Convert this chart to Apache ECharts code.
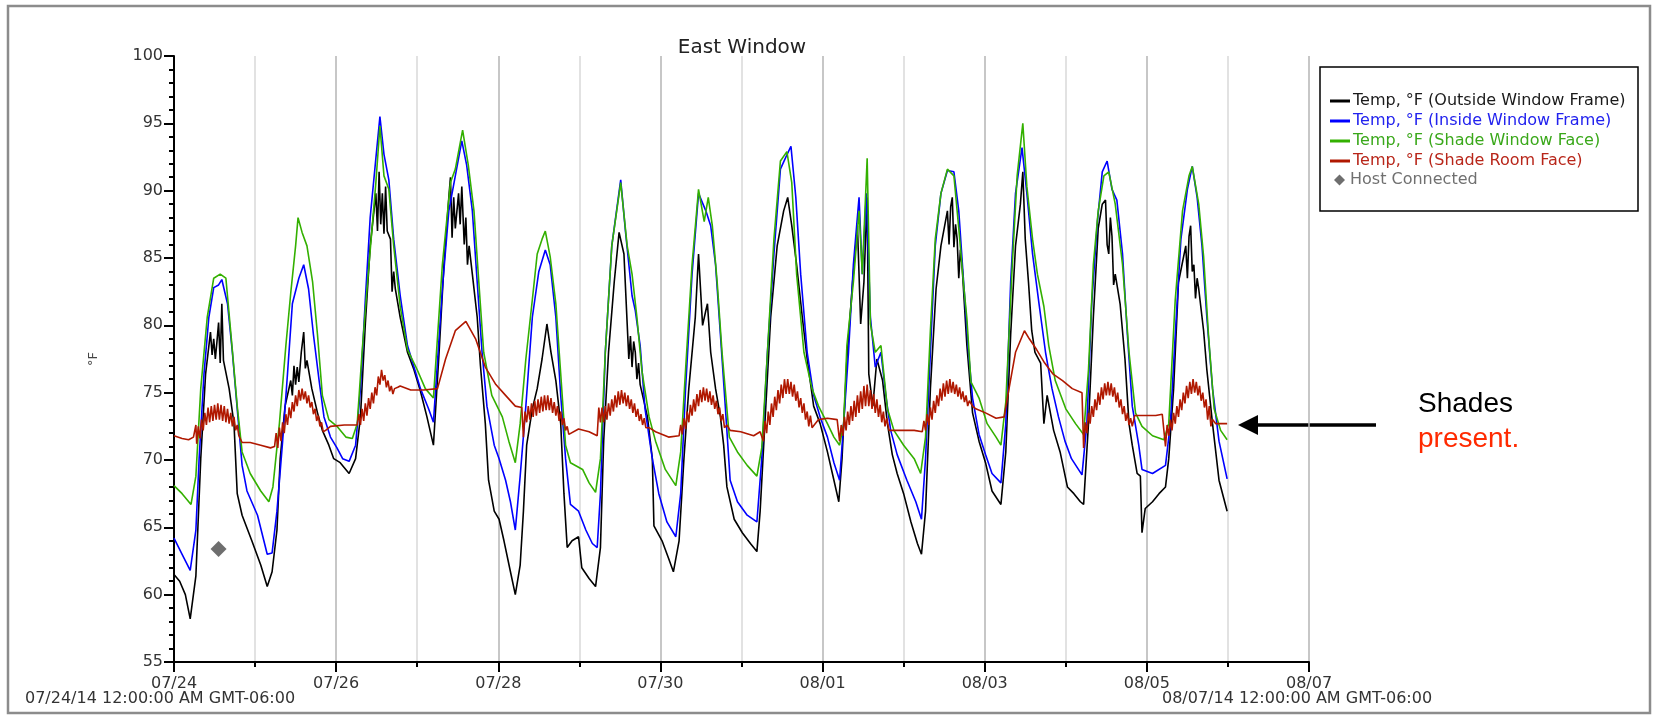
<!DOCTYPE html>
<html>
<head>
<meta charset="utf-8">
<title>East Window</title>
<script src="https://cdn.jsdelivr.net/npm/echarts@6/dist/echarts.min.js"></script>
<style>
  html, body { margin: 0; padding: 0; background: #fff; }
  #chart { width: 1656px; height: 717px; }
</style>
</head>
<body>
<div id="chart"></div>
<script>
// days since 07/24/14 00:00, temperature in °F
const outsideFrame = [
  [0.0, 61.5], [0.07, 61.0], [0.14, 60.0], [0.2, 58.2], [0.27, 61.4], [0.33, 70.1], [0.39, 76.4], [0.45, 79.5],
  [0.47, 77.8], [0.49, 79.0], [0.51, 77.5], [0.53, 78.8], [0.55, 80.2], [0.57, 77.2], [0.59, 81.6], [0.61, 77.4],
  [0.68, 75.3], [0.74, 72.7], [0.78, 67.5], [0.84, 65.9], [0.96, 64.0], [1.07, 62.2], [1.15, 60.6], [1.21, 61.7],
  [1.27, 64.8], [1.31, 70.1], [1.37, 74.0], [1.44, 75.9], [1.46, 74.8], [1.48, 77.0], [1.50, 75.6], [1.52, 76.9],
  [1.54, 75.8], [1.57, 78.0], [1.60, 79.5], [1.62, 76.8], [1.64, 77.4], [1.70, 75.3], [1.77, 73.5], [1.83, 72.2],
  [1.91, 71.1], [1.97, 70.1], [2.05, 69.8], [2.16, 69.0], [2.24, 70.1], [2.30, 73.2], [2.36, 80.1], [2.42, 85.9],
  [2.49, 89.8], [2.51, 87.0], [2.53, 91.4], [2.55, 87.5], [2.57, 89.8], [2.59, 86.8], [2.61, 90.3], [2.63, 87.0],
  [2.67, 86.4], [2.69, 82.5], [2.71, 84.0], [2.73, 82.7], [2.79, 80.6], [2.88, 78.0], [2.96, 76.7], [3.04, 75.1],
  [3.12, 73.2], [3.20, 71.1], [3.27, 78.0], [3.33, 84.5], [3.39, 89.5], [3.41, 91.0], [3.43, 86.5], [3.45, 89.5],
  [3.47, 87.2], [3.51, 89.8], [3.53, 87.5], [3.55, 90.3], [3.58, 86.0], [3.60, 88.0], [3.62, 84.5], [3.64, 85.9],
  [3.68, 83.8], [3.74, 80.6], [3.78, 77.0], [3.84, 72.7], [3.88, 68.5], [3.95, 66.2], [4.01, 65.6], [4.07, 64.0],
  [4.15, 61.7], [4.21, 60.0], [4.27, 62.2], [4.31, 66.2], [4.35, 71.1], [4.42, 73.8], [4.48, 75.3], [4.54, 77.5],
  [4.60, 80.1], [4.65, 78.0], [4.71, 75.9], [4.77, 72.7], [4.81, 67.5], [4.85, 63.5], [4.91, 64.0], [4.99, 64.3],
  [5.03, 62.0], [5.12, 61.2], [5.20, 60.6], [5.26, 63.5], [5.30, 71.4], [5.36, 78.0], [5.43, 83.2], [5.49, 86.9],
  [5.55, 85.3], [5.59, 80.1], [5.61, 77.5], [5.63, 79.2], [5.65, 76.9], [5.67, 78.8], [5.69, 78.0], [5.71, 76.0],
  [5.73, 77.2], [5.75, 75.6], [5.84, 73.2], [5.90, 70.1], [5.92, 65.1], [6.02, 64.0], [6.10, 62.7], [6.16, 61.7],
  [6.23, 64.0], [6.29, 70.1], [6.35, 75.3], [6.43, 80.6], [6.47, 85.3], [6.52, 80.0], [6.56, 81.1], [6.58, 81.6],
  [6.62, 78.0], [6.68, 75.3], [6.74, 73.2], [6.78, 71.1], [6.82, 68.0], [6.91, 65.6], [7.01, 64.6], [7.11, 63.8],
  [7.19, 63.2], [7.23, 66.2], [7.30, 74.0], [7.36, 80.6], [7.44, 85.9], [7.52, 88.5], [7.57, 89.5], [7.62, 87.4],
  [7.68, 84.5], [7.75, 80.6], [7.81, 77.5], [7.89, 74.0], [7.97, 72.7], [8.06, 70.6], [8.14, 68.5], [8.20, 66.9],
  [8.24, 70.1], [8.30, 77.5], [8.37, 83.2], [8.43, 87.4], [8.47, 80.1], [8.51, 83.2], [8.55, 89.5], [8.57, 76.4],
  [8.62, 74.0], [8.67, 77.5], [8.74, 75.9], [8.80, 72.7], [8.86, 70.4], [8.92, 69.0], [9.00, 67.5], [9.09, 65.4],
  [9.17, 63.8], [9.22, 63.0], [9.27, 66.2], [9.33, 75.3], [9.40, 82.7], [9.46, 85.9], [9.54, 88.5], [9.56, 86.0],
  [9.58, 88.8], [9.60, 89.5], [9.62, 85.8], [9.64, 87.5], [9.66, 86.4], [9.68, 83.5], [9.70, 85.6], [9.72, 84.5],
  [9.78, 78.5], [9.85, 73.5], [9.93, 71.4], [10.01, 69.8], [10.09, 67.7], [10.20, 66.7], [10.26, 70.6], [10.32, 79.3],
  [10.38, 85.9], [10.44, 89.0], [10.47, 91.4], [10.50, 86.4], [10.54, 83.2], [10.58, 79.6], [10.62, 78.0], [10.69, 77.2],
  [10.73, 72.7], [10.77, 74.8], [10.85, 72.2], [10.93, 70.6], [11.02, 68.0], [11.10, 67.5], [11.18, 66.9], [11.22, 66.7],
  [11.28, 72.7], [11.34, 80.6], [11.40, 87.2], [11.45, 89.0], [11.49, 89.3], [11.51, 86.0], [11.53, 85.3], [11.55, 88.0],
  [11.57, 86.6], [11.59, 83.0], [11.61, 83.8], [11.67, 81.6], [11.73, 77.5], [11.78, 72.7], [11.82, 71.1], [11.88, 69.0],
  [11.92, 68.8], [11.94, 64.6], [11.98, 66.4], [12.07, 66.9], [12.15, 67.5], [12.23, 68.0], [12.27, 70.1], [12.33, 75.3],
  [12.39, 83.2], [12.48, 85.9], [12.50, 83.5], [12.52, 86.6], [12.54, 87.4], [12.56, 84.0], [12.58, 84.5], [12.60, 82.0],
  [12.62, 83.5], [12.64, 82.7], [12.70, 79.6], [12.74, 76.7], [12.81, 72.7], [12.89, 68.5], [12.99, 66.2]
];

const insideFrame = [
  [0.0, 64.2], [0.1, 63.0], [0.2, 61.8], [0.27, 64.8], [0.31, 70.1], [0.37, 76.4], [0.43, 80.6], [0.49, 82.8],
  [0.55, 83.0], [0.59, 83.4], [0.66, 81.6], [0.72, 78.0], [0.78, 73.8], [0.84, 69.6], [0.90, 67.7], [1.03, 65.9],
  [1.15, 63.0], [1.21, 63.1], [1.27, 66.2], [1.34, 71.4], [1.40, 76.4], [1.46, 81.6], [1.54, 83.5], [1.60, 84.5],
  [1.66, 82.7], [1.72, 79.3], [1.79, 75.9], [1.85, 73.2], [1.93, 71.7], [2.01, 70.9], [2.08, 70.1], [2.16, 69.9],
  [2.24, 71.1], [2.30, 75.3], [2.36, 81.9], [2.42, 88.0], [2.49, 92.4], [2.54, 95.5], [2.59, 92.7], [2.65, 90.8],
  [2.71, 86.4], [2.79, 82.2], [2.88, 78.5], [2.96, 76.9], [3.04, 75.3], [3.14, 73.8], [3.20, 72.8], [3.31, 82.7],
  [3.39, 88.5], [3.47, 91.1], [3.55, 93.7], [3.61, 91.9], [3.68, 88.5], [3.74, 83.2], [3.80, 78.0], [3.86, 74.0],
  [3.95, 71.1], [4.01, 70.1], [4.09, 68.5], [4.15, 66.9], [4.21, 64.8], [4.27, 68.8], [4.34, 74.0], [4.42, 80.6],
  [4.50, 84.0], [4.58, 85.6], [4.64, 84.5], [4.71, 80.6], [4.77, 74.8], [4.83, 70.1], [4.89, 66.7], [4.99, 66.2],
  [5.08, 64.8], [5.16, 63.8], [5.22, 63.5], [5.26, 67.5], [5.32, 78.0], [5.40, 85.9], [5.51, 90.8], [5.57, 86.9],
  [5.65, 82.2], [5.69, 81.1], [5.75, 78.5], [5.81, 73.8], [5.90, 70.1], [5.98, 67.5], [6.08, 65.4], [6.19, 64.3],
  [6.25, 67.5], [6.31, 75.3], [6.39, 83.8], [6.47, 89.8], [6.56, 88.5], [6.62, 87.4], [6.68, 84.5], [6.74, 79.3],
  [6.80, 74.0], [6.86, 68.5], [6.95, 66.9], [7.07, 65.9], [7.19, 65.4], [7.25, 70.1], [7.32, 78.0], [7.40, 85.3],
  [7.48, 91.6], [7.54, 92.4], [7.61, 93.3], [7.67, 89.5], [7.73, 83.8], [7.81, 78.0], [7.89, 74.8], [7.97, 73.2],
  [8.06, 71.7], [8.14, 69.8], [8.21, 68.5], [8.26, 72.7], [8.32, 78.0], [8.38, 84.5], [8.45, 89.5], [8.49, 83.8],
  [8.54, 89.8], [8.59, 80.6], [8.65, 76.9], [8.72, 78.0], [8.78, 74.8], [8.84, 72.2], [8.92, 70.4], [9.04, 68.5],
  [9.15, 66.9], [9.22, 65.6], [9.27, 70.1], [9.33, 78.0], [9.39, 85.9], [9.46, 89.8], [9.54, 91.5], [9.62, 91.4],
  [9.68, 88.5], [9.74, 83.2], [9.80, 78.0], [9.85, 74.6], [9.93, 71.9], [10.01, 70.4], [10.09, 69.0], [10.20, 68.3],
  [10.26, 72.7], [10.32, 83.2], [10.38, 89.8], [10.46, 93.2], [10.52, 89.8], [10.59, 85.3], [10.67, 81.6], [10.75, 78.0],
  [10.83, 75.3], [10.91, 73.2], [10.99, 71.4], [11.07, 70.1], [11.20, 68.9], [11.26, 72.7], [11.32, 81.6], [11.39, 87.7],
  [11.45, 91.4], [11.51, 92.2], [11.57, 90.1], [11.63, 89.3], [11.70, 85.3], [11.76, 79.3], [11.82, 74.0], [11.90, 71.1],
  [11.94, 69.3], [12.07, 69.0], [12.23, 69.6], [12.29, 72.7], [12.35, 79.3], [12.42, 86.4], [12.50, 90.1], [12.56, 91.8],
  [12.62, 89.5], [12.68, 85.9], [12.74, 80.6], [12.81, 75.3], [12.89, 71.4], [12.99, 68.6]
];

const shadeWindowFace = [
  [0.0, 68.1], [0.1, 67.5], [0.21, 66.7], [0.27, 68.8], [0.33, 75.3], [0.41, 80.6], [0.49, 83.5], [0.57, 83.8],
  [0.64, 83.5], [0.70, 79.5], [0.78, 74.0], [0.84, 70.6], [0.94, 69.0], [1.07, 67.7], [1.17, 66.9], [1.22, 68.0],
  [1.30, 72.7], [1.38, 78.5], [1.44, 82.4], [1.50, 85.9], [1.53, 88.0], [1.58, 86.9], [1.64, 85.9], [1.71, 83.2],
  [1.77, 79.3], [1.83, 74.8], [1.91, 73.0], [2.01, 72.5], [2.12, 71.7], [2.20, 71.6], [2.26, 72.7], [2.32, 78.0],
  [2.38, 82.7], [2.45, 87.7], [2.49, 90.6], [2.54, 94.8], [2.59, 91.1], [2.65, 90.1], [2.71, 85.9], [2.79, 81.4],
  [2.88, 78.2], [3.00, 76.7], [3.10, 75.3], [3.20, 74.6], [3.31, 84.5], [3.41, 90.6], [3.47, 91.6], [3.56, 94.5],
  [3.63, 91.9], [3.70, 88.5], [3.76, 83.2], [3.82, 78.0], [3.92, 74.8], [4.05, 73.2], [4.13, 71.4], [4.21, 69.8],
  [4.27, 72.7], [4.34, 77.5], [4.42, 81.9], [4.48, 85.3], [4.54, 86.4], [4.58, 87.0], [4.64, 85.1], [4.71, 81.6],
  [4.77, 76.4], [4.83, 71.1], [4.89, 69.8], [5.04, 69.3], [5.12, 68.3], [5.20, 67.6], [5.26, 70.1], [5.32, 78.0],
  [5.40, 85.9], [5.51, 90.6], [5.59, 85.9], [5.65, 83.8], [5.71, 80.6], [5.77, 76.7], [5.86, 73.2], [5.94, 71.4],
  [6.06, 69.3], [6.19, 68.1], [6.25, 70.6], [6.31, 76.7], [6.39, 84.5], [6.47, 90.1], [6.54, 87.7], [6.59, 89.5],
  [6.64, 87.4], [6.70, 83.2], [6.76, 78.0], [6.85, 71.7], [6.95, 70.6], [7.07, 69.6], [7.19, 68.8], [7.25, 70.9],
  [7.32, 78.0], [7.40, 86.4], [7.48, 92.2], [7.56, 92.9], [7.62, 90.6], [7.68, 83.8], [7.77, 78.0], [7.87, 75.3],
  [7.95, 74.0], [8.06, 72.7], [8.14, 71.7], [8.21, 71.1], [8.26, 72.7], [8.30, 78.5], [8.38, 83.2], [8.45, 88.5],
  [8.49, 83.8], [8.55, 92.4], [8.59, 80.1], [8.65, 78.0], [8.72, 78.5], [8.80, 73.8], [8.88, 72.2], [9.00, 71.1],
  [9.13, 70.1], [9.21, 69.0], [9.27, 71.7], [9.33, 79.6], [9.39, 86.4], [9.46, 89.8], [9.54, 91.6], [9.62, 91.1],
  [9.68, 87.2], [9.74, 83.0], [9.78, 80.5], [9.83, 75.8], [9.93, 74.6], [10.03, 72.7], [10.14, 71.7], [10.20, 71.1],
  [10.26, 74.3], [10.34, 84.5], [10.40, 91.1], [10.47, 95.0], [10.52, 90.3], [10.59, 86.4], [10.65, 83.8], [10.73, 81.4],
  [10.79, 78.5], [10.87, 75.9], [11.00, 73.8], [11.12, 72.7], [11.22, 71.9], [11.28, 76.7], [11.34, 84.5], [11.40, 88.5],
  [11.47, 91.1], [11.53, 91.4], [11.61, 89.0], [11.70, 84.5], [11.78, 78.0], [11.86, 73.5], [11.94, 72.5], [12.07, 71.8],
  [12.21, 71.5], [12.27, 72.7], [12.35, 81.9], [12.44, 88.5], [12.52, 91.1], [12.56, 91.8], [12.64, 89.0], [12.70, 85.1],
  [12.76, 79.3], [12.83, 73.8], [12.91, 72.2], [12.99, 71.5]
];

const shadeRoomFace = [
  [0.0, 71.8], [0.10, 71.6], [0.18, 71.5], [0.24, 71.7], [0.27, 72.6], [0.28, 71.2], [0.30, 72.5], [0.32, 71.6],
  [0.34, 73.0], [0.36, 72.2], [0.38, 73.5], [0.40, 72.6], [0.42, 73.9], [0.44, 72.8], [0.46, 74.0], [0.48, 72.9],
  [0.50, 74.1], [0.52, 73.0], [0.54, 74.2], [0.56, 73.0], [0.58, 74.1], [0.60, 72.9], [0.62, 74.0], [0.64, 72.8],
  [0.66, 73.8], [0.68, 72.7], [0.70, 73.5], [0.72, 72.5], [0.74, 73.2], [0.76, 72.2], [0.78, 72.6], [0.80, 71.8],
  [0.84, 71.3], [0.94, 71.3], [1.07, 71.1], [1.19, 70.9], [1.24, 71.0], [1.26, 72.0], [1.28, 70.9], [1.30, 72.4],
  [1.32, 71.4], [1.34, 72.8], [1.36, 72.0], [1.38, 73.4], [1.40, 72.6], [1.42, 73.9], [1.44, 73.1], [1.46, 74.3],
  [1.48, 73.6], [1.50, 74.8], [1.52, 74.0], [1.54, 75.2], [1.56, 74.4], [1.58, 75.3], [1.60, 74.5], [1.62, 75.1],
  [1.64, 74.2], [1.66, 74.8], [1.68, 73.9], [1.70, 74.3], [1.72, 73.4], [1.74, 73.8], [1.76, 72.9], [1.78, 73.3],
  [1.80, 72.5], [1.82, 72.8], [1.84, 72.1], [1.87, 72.2], [1.93, 72.5], [2.10, 72.6], [2.22, 72.6], [2.26, 72.6],
  [2.28, 73.4], [2.30, 72.6], [2.32, 73.8], [2.34, 72.9], [2.36, 74.2], [2.38, 73.3], [2.40, 74.6], [2.42, 73.8],
  [2.44, 75.0], [2.46, 74.2], [2.48, 75.4], [2.50, 74.8], [2.52, 76.2], [2.54, 75.6], [2.56, 76.7], [2.58, 75.9],
  [2.60, 76.3], [2.62, 75.4], [2.64, 75.9], [2.66, 75.1], [2.68, 75.5], [2.70, 74.9], [2.72, 75.3], [2.76, 75.4],
  [2.79, 75.5], [2.92, 75.2], [3.08, 75.2], [3.25, 75.3], [3.35, 77.5], [3.47, 79.6], [3.60, 80.3], [3.72, 79.0],
  [3.84, 76.9], [3.97, 75.6], [4.09, 74.8], [4.21, 74.0], [4.29, 73.9], [4.31, 71.7], [4.33, 73.6], [4.35, 72.8],
  [4.37, 74.0], [4.39, 73.0], [4.41, 74.2], [4.43, 73.2], [4.45, 74.4], [4.47, 73.3], [4.49, 74.5], [4.51, 73.5],
  [4.53, 74.7], [4.55, 73.6], [4.57, 74.8], [4.59, 73.7], [4.61, 74.8], [4.63, 73.7], [4.65, 74.6], [4.67, 73.5],
  [4.69, 74.3], [4.71, 73.3], [4.73, 74.0], [4.75, 72.9], [4.77, 73.6], [4.79, 72.6], [4.81, 73.1], [4.83, 72.2],
  [4.85, 72.5], [4.87, 71.9], [4.99, 72.3], [5.12, 72.1], [5.22, 71.8], [5.24, 73.9], [5.26, 72.8], [5.28, 73.9],
  [5.30, 72.8], [5.32, 74.0], [5.34, 73.0], [5.36, 74.2], [5.38, 73.3], [5.40, 74.5], [5.42, 73.6], [5.44, 74.8],
  [5.46, 73.9], [5.48, 75.1], [5.50, 74.1], [5.52, 75.2], [5.54, 74.2], [5.56, 75.0], [5.58, 74.0], [5.60, 74.8],
  [5.62, 73.8], [5.64, 74.5], [5.66, 73.5], [5.68, 74.2], [5.70, 73.2], [5.72, 73.8], [5.74, 72.9], [5.76, 73.4],
  [5.78, 72.6], [5.80, 73.1], [5.82, 72.4], [5.86, 72.4], [5.94, 72.1], [6.10, 71.7], [6.23, 71.8], [6.25, 72.6],
  [6.27, 71.9], [6.29, 73.1], [6.31, 72.3], [6.33, 73.6], [6.35, 72.8], [6.37, 74.1], [6.39, 73.3], [6.41, 74.5],
  [6.43, 73.6], [6.45, 74.9], [6.47, 74.0], [6.49, 75.2], [6.51, 74.3], [6.53, 75.4], [6.55, 74.4], [6.57, 75.3],
  [6.59, 74.3], [6.61, 75.1], [6.63, 74.1], [6.65, 74.8], [6.67, 73.8], [6.69, 74.4], [6.71, 73.4], [6.73, 73.9],
  [6.75, 72.9], [6.77, 73.4], [6.79, 72.4], [6.82, 72.6], [6.86, 72.2], [6.99, 72.1], [7.15, 71.8], [7.23, 72.1],
  [7.27, 71.4], [7.29, 72.9], [7.31, 72.0], [7.33, 73.6], [7.35, 72.6], [7.37, 74.2], [7.39, 73.2], [7.41, 74.7],
  [7.43, 73.7], [7.45, 75.2], [7.47, 74.2], [7.49, 75.6], [7.51, 74.6], [7.53, 76.0], [7.55, 74.9], [7.57, 76.0],
  [7.59, 74.9], [7.61, 75.8], [7.63, 74.7], [7.65, 75.6], [7.67, 74.4], [7.69, 75.1], [7.71, 73.9], [7.73, 74.6],
  [7.75, 73.5], [7.77, 74.2], [7.79, 73.0], [7.81, 73.6], [7.83, 72.5], [7.85, 73.3], [7.87, 72.4], [7.89, 72.5],
  [7.95, 73.0], [8.06, 73.1], [8.18, 73.0], [8.21, 71.4], [8.23, 72.6], [8.25, 71.8], [8.27, 73.2], [8.29, 72.2],
  [8.31, 73.6], [8.33, 72.6], [8.35, 74.0], [8.37, 72.9], [8.39, 74.4], [8.41, 73.2], [8.43, 74.8], [8.45, 73.5],
  [8.47, 75.1], [8.49, 73.8], [8.51, 75.5], [8.53, 74.0], [8.55, 75.6], [8.57, 74.0], [8.59, 75.2], [8.61, 73.8],
  [8.63, 74.9], [8.65, 73.5], [8.67, 74.5], [8.69, 73.2], [8.71, 74.1], [8.73, 72.8], [8.75, 73.6], [8.77, 72.5],
  [8.79, 73.1], [8.82, 72.2], [8.96, 72.2], [9.13, 72.2], [9.23, 72.1], [9.25, 72.9], [9.27, 72.2], [9.29, 73.4],
  [9.31, 72.6], [9.33, 73.9], [9.35, 73.0], [9.37, 74.4], [9.39, 73.5], [9.41, 74.8], [9.43, 74.0], [9.45, 75.3],
  [9.47, 74.4], [9.49, 75.7], [9.51, 74.7], [9.53, 75.9], [9.55, 74.9], [9.57, 76.0], [9.59, 75.0], [9.61, 75.8],
  [9.63, 74.9], [9.65, 75.6], [9.67, 74.7], [9.69, 75.4], [9.71, 74.5], [9.73, 75.1], [9.75, 74.3], [9.77, 74.8],
  [9.79, 74.0], [9.81, 74.4], [9.85, 74.0], [9.89, 73.8], [10.01, 73.5], [10.14, 73.1], [10.24, 73.2], [10.30, 75.3],
  [10.38, 78.0], [10.49, 79.6], [10.55, 79.0], [10.64, 78.2], [10.74, 77.2], [10.84, 76.4], [10.96, 75.9], [11.08, 75.3],
  [11.20, 75.0], [11.22, 70.9], [11.24, 72.8], [11.26, 72.0], [11.28, 73.5], [11.30, 72.7], [11.32, 74.0], [11.34, 73.2],
  [11.36, 74.5], [11.38, 73.7], [11.40, 75.0], [11.42, 74.1], [11.44, 75.4], [11.46, 74.5], [11.48, 75.7], [11.50, 74.8],
  [11.52, 75.8], [11.54, 74.8], [11.56, 75.7], [11.58, 74.7], [11.60, 75.4], [11.62, 74.3], [11.64, 75.0], [11.66, 73.9],
  [11.68, 74.5], [11.70, 73.4], [11.72, 74.0], [11.74, 72.9], [11.76, 73.5], [11.78, 72.6], [11.80, 73.1], [11.82, 72.5],
  [11.85, 73.3], [11.88, 73.3], [11.98, 73.3], [12.11, 73.3], [12.19, 73.4], [12.23, 71.0], [12.25, 72.6], [12.27, 71.8],
  [12.29, 73.0], [12.31, 72.2], [12.33, 73.5], [12.35, 72.7], [12.37, 74.0], [12.39, 73.2], [12.41, 74.5], [12.43, 73.7],
  [12.45, 75.0], [12.47, 74.2], [12.49, 75.5], [12.51, 74.6], [12.53, 75.8], [12.55, 74.9], [12.57, 76.0], [12.59, 75.0],
  [12.61, 75.8], [12.63, 74.8], [12.65, 75.5], [12.67, 74.4], [12.69, 75.0], [12.71, 73.9], [12.73, 74.5], [12.75, 73.0],
  [12.77, 74.0], [12.79, 72.5], [12.81, 73.0], [12.85, 72.7], [12.99, 72.7]
];

const hostConnected = [[0.55, 63.4]];

const seriesNames = [
  'Temp, °F (Outside Window Frame)',
  'Temp, °F (Inside Window Frame)',
  'Temp, °F (Shade Window Face)',
  'Temp, °F (Shade Room Face)',
  'Host Connected'
];
const seriesColors = ['#000000', '#0000ff', '#33b000', '#b01800', '#4a4a4a'];
const legendTextColors = ['#1a1a1a', '#2222ee', '#3aa81a', '#b8261a', '#707070'];

const dateTickLabels = ['07/24', '07/26', '07/28', '07/30', '08/01', '08/03', '08/05', '08/07'];
const startStamp = '07/24/14 12:00:00 AM GMT-06:00';
const endStamp = '08/07/14 12:00:00 AM GMT-06:00';

const FONT = 'DejaVu Sans';
const chart = echarts.init(document.getElementById('chart'), null, { renderer: 'canvas' });

const lineSeries = [outsideFrame, insideFrame, shadeWindowFace, shadeRoomFace].map((d, i) => ({
  name: seriesNames[i],
  type: 'line',
  data: d,
  showSymbol: false,
  symbol: 'none',
  animation: false,
  z: i === 3 ? 6 : 3 + i,
  lineStyle: { color: seriesColors[i], width: 1.6 },
  itemStyle: { color: seriesColors[i] }
}));

const option = {
  backgroundColor: '#ffffff',
  animation: false,
  title: {
    text: 'East Window',
    left: 737,
    top: 33,
    textAlign: 'center',
    textStyle: { fontFamily: FONT, fontSize: 20, fontWeight: 'normal', color: '#222' }
  },
  grid: { left: 174, right: 347, top: 56, bottom: 55, containLabel: false },
  legend: [
    {
      orient: 'vertical',
      left: 1325,
      top: 88,
      itemWidth: 20,
      itemHeight: 3,
      itemGap: 4,
      selectedMode: false,
      data: seriesNames.slice(0, 4).map((n, i) => ({
        name: n,
        icon: 'rect',
        itemStyle: { color: seriesColors[i] },
        textStyle: { color: legendTextColors[i] }
      })),
      textStyle: { fontFamily: FONT, fontSize: 16, padding: [0, 0, 0, -2] }
    },
    {
      orient: 'vertical',
      left: 1329,
      top: 167,
      itemWidth: 11,
      itemHeight: 11,
      selectedMode: false,
      data: [{ name: seriesNames[4], icon: 'diamond', itemStyle: { color: seriesColors[4] },
        textStyle: { color: legendTextColors[4] } }],
      textStyle: { fontFamily: FONT, fontSize: 16, padding: [0, 0, 0, 0] }
    }
  ],
  xAxis: [
    {
      type: 'value',
      min: 0,
      max: 14,
      interval: 1,
      axisLine: { show: true, lineStyle: { color: '#000', width: 2 } },
      axisTick: { show: true, length: 5, lineStyle: { color: '#000', width: 2 } },
      axisLabel: { show: false },
      splitLine: { show: true, lineStyle: { color: ['#b5b5b5', '#d8d8d8'], width: 1.5 } }
    },
    {
      type: 'value',
      min: 0,
      max: 14,
      interval: 2,
      position: 'bottom',
      axisLine: { show: false },
      axisTick: { show: true, length: 10, lineStyle: { color: '#000', width: 2 } },
      axisLabel: {
        show: true,
        margin: 14,
        fontFamily: FONT,
        fontSize: 16,
        color: '#333',
        formatter: v => dateTickLabels[Math.round(v / 2)]
      },
      splitLine: { show: false }
    }
  ],
  yAxis: {
    type: 'value',
    min: 55,
    max: 100,
    interval: 5,
    name: '°F',
    nameLocation: 'middle',
    nameGap: 74,
    nameRotate: 90,
    nameTextStyle: { fontFamily: FONT, fontSize: 13, color: '#444' },
    axisLine: { show: true, lineStyle: { color: '#000', width: 2 } },
    axisTick: { show: true, length: 10, lineStyle: { color: '#000', width: 2 } },
    minorTick: { show: true, splitNumber: 5, length: 5, lineStyle: { color: '#000', width: 2 } },
    axisLabel: { fontFamily: FONT, fontSize: 16, color: '#333', margin: 11 },
    splitLine: { show: false }
  },
  series: lineSeries.concat([{
    name: seriesNames[4],
    type: 'scatter',
    data: hostConnected,
    symbol: 'diamond',
    symbolSize: 16,
    z: 8,
    itemStyle: { color: seriesColors[4] }
  }]),
  graphic: [
    {
      type: 'rect',
      shape: { x: 8, y: 6, width: 1642, height: 707 },
      style: { fill: 'none', stroke: '#8c8c8c', lineWidth: 2.5 },
      z: 0
    },
    {
      type: 'rect',
      shape: { x: 1320, y: 67, width: 318, height: 144 },
      style: { fill: 'none', stroke: '#000', lineWidth: 1.5 }
    },
    {
      type: 'text',
      left: 25,
      top: 691,
      style: { text: startStamp, font: '16px "DejaVu Sans"', fill: '#333' }
    },
    {
      type: 'text',
      left: 1162,
      top: 691,
      style: { text: endStamp, font: '16px "DejaVu Sans"', fill: '#333' }
    },
    {
      type: 'line',
      shape: { x1: 1376, y1: 425, x2: 1254, y2: 425 },
      style: { stroke: '#000', lineWidth: 3.5 }
    },
    {
      type: 'polygon',
      shape: { points: [[1238, 425], [1258, 415], [1258, 435]] },
      style: { fill: '#000' }
    },
    {
      type: 'text',
      left: 1418,
      top: 390,
      style: { text: 'Shades', font: '28px "Liberation Sans"', fill: '#000' }
    },
    {
      type: 'text',
      left: 1418,
      top: 425,
      style: { text: 'present.', font: '28px "Liberation Sans"', fill: '#ff2a00' }
    }
  ]
};

chart.setOption(option);
</script>
</body>
</html>
